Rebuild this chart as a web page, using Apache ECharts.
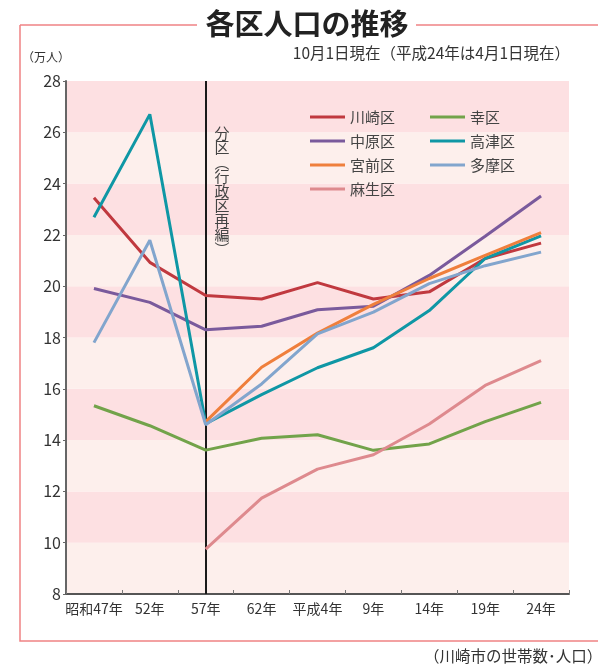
<!DOCTYPE html>
<html>
<head>
<meta charset="utf-8">
<style>
  html, body { margin: 0; padding: 0; background: #ffffff; }
  #chart { width: 598px; height: 667px; }
</style>
<script src="https://cdn.jsdelivr.net/npm/echarts@6/dist/echarts.min.js"></script>
</head>
<body>
<div id="chart"></div>
<script>
// 各区人口（万人）、10月1日現在
const years = ['昭和47年', '52年', '57年', '62年', '平成4年', '9年', '14年', '19年', '24年'];

const kawasaki  = [23.45, 20.93, 19.64, 19.50, 20.14, 19.50, 19.78, 21.08, 21.68];
const saiwai    = [15.34, 14.56, 13.61, 14.07, 14.21, 13.60, 13.85, 14.72, 15.47];
const nakahara  = [19.91, 19.37, 18.30, 18.44, 19.08, 19.22, 20.42, 21.95, 23.52];
const takatsu   = [22.69, 26.70, 14.64, 15.77, 16.82, 17.60, 19.05, 21.08, 21.96];
const miyamae   = [null, null, 14.72, 16.84, 18.17, 19.29, 20.30, 21.20, 22.09];
const tama      = [17.80, 21.79, 14.60, 16.19, 18.14, 18.99, 20.10, 20.80, 21.33];
const asao      = [null, null, 9.75, 11.74, 12.87, 13.43, 14.63, 16.13, 17.10];

const yMin = 8, yMax = 28, yStep = 2;
const splitYear = '57年';

const FONT = '"Noto Sans CJK JP", "Noto Sans", sans-serif';
const BORDER = '#ef8284';

function line(name, data, color) {
  return {
    name: name,
    type: 'line',
    data: data,
    symbol: 'none',
    connectNulls: false,
    lineStyle: { color: color, width: 3 },
    itemStyle: { color: color },
    z: 3
  };
}

const series = [
  line('川崎区', kawasaki, '#c0393f'),
  line('幸区', saiwai, '#72a34a'),
  line('中原区', nakahara, '#7a5a9c'),
  line('高津区', takatsu, '#0f97a5'),
  line('宮前区', miyamae, '#ef7f3c'),
  line('多摩区', tama, '#82a5cd'),
  line('麻生区', asao, '#de8a8e')
];

// 分区（行政区再編）の区切り線
series[0].markLine = {
  silent: true,
  symbol: 'none',
  label: { show: false },
  lineStyle: { color: '#1a1a1a', width: 2, type: 'solid' },
  data: [{ xAxis: splitYear }],
  z: 2
};

const chart = echarts.init(document.getElementById('chart'), null, { renderer: 'canvas' });

const legendText = { fontFamily: FONT, fontSize: 15, color: '#444', lineHeight: 16 };
const legendBase = {
  orient: 'vertical',
  top: 104,
  icon: 'rect',
  itemWidth: 35, itemHeight: 3, itemGap: 8,
  textStyle: legendText
};

chart.setOption({
  animation: false,
  backgroundColor: '#ffffff',
  textStyle: { fontFamily: FONT },
  grid: { left: 66, right: 29, top: 81, bottom: 73, containLabel: false },
  legend: [
    Object.assign({ data: ['川崎区', '中原区', '宮前区', '麻生区'], left: 305 }, legendBase),
    Object.assign({ data: ['幸区', '高津区', '多摩区'], left: 425 }, legendBase)
  ],
  xAxis: {
    type: 'category',
    data: years,
    boundaryGap: true,
    axisLine: { lineStyle: { color: '#555', width: 2 } },
    axisTick: { show: true, inside: true, length: 4, lineStyle: { color: '#777' } },
    axisLabel: { color: '#333', fontSize: 14, margin: 8, interval: 0, fontFamily: FONT },
    splitLine: { show: false }
  },
  yAxis: {
    type: 'value',
    min: yMin, max: yMax, interval: yStep,
    axisLine: { show: true, lineStyle: { color: '#666', width: 2 } },
    axisTick: { show: true, length: 3, lineStyle: { color: '#666' } },
    axisLabel: { color: '#333', fontSize: 16, margin: 5, fontFamily: FONT },
    splitLine: { show: false },
    splitArea: { show: true, areaStyle: { color: ['#fdefec', '#fde0e2'] } }
  },
  series: series,
  graphic: [
    // 外枠
    { type: 'polyline', shape: { points: [[20, 25], [197, 25]] }, style: { stroke: BORDER, lineWidth: 1.5, fill: null } },
    { type: 'polyline', shape: { points: [[416, 25], [598, 25]] }, style: { stroke: BORDER, lineWidth: 1.5, fill: null } },
    { type: 'polyline', shape: { points: [[20, 25], [20, 641], [598, 641]] }, style: { stroke: BORDER, lineWidth: 1.5, fill: null } },
    // 表題
    { type: 'text', x: 307, y: 24, style: { text: '各区人口の推移', font: 'bold 29px ' + FONT, fill: '#222', textAlign: 'center', textVerticalAlign: 'middle' } },
    { type: 'text', x: 570, y: 53, style: { text: '10月1日現在（平成24年は4月1日現在）', font: '15.5px ' + FONT, fill: '#333', textAlign: 'right', textVerticalAlign: 'middle' } },
    { type: 'text', x: 22, y: 57, style: { text: '（万人）', font: '12px ' + FONT, fill: '#333', textAlign: 'left', textVerticalAlign: 'middle' } },
    // 分区注記（縦書き）
    { type: 'text', x: 222, y: 126, z: 10, style: { text: '分\n区\n︵\n行\n政\n区\n再\n編\n︶', font: '15px ' + FONT, lineHeight: 14.5, fill: '#444', textAlign: 'center', textVerticalAlign: 'top' } },
    // 出典
    { type: 'text', x: 424, y: 656, style: { text: '（川崎市の世帯数･人口）', font: '15.5px ' + FONT, fill: '#333', textAlign: 'left', textVerticalAlign: 'middle' } }
  ]
});
</script>
</body>
</html>
